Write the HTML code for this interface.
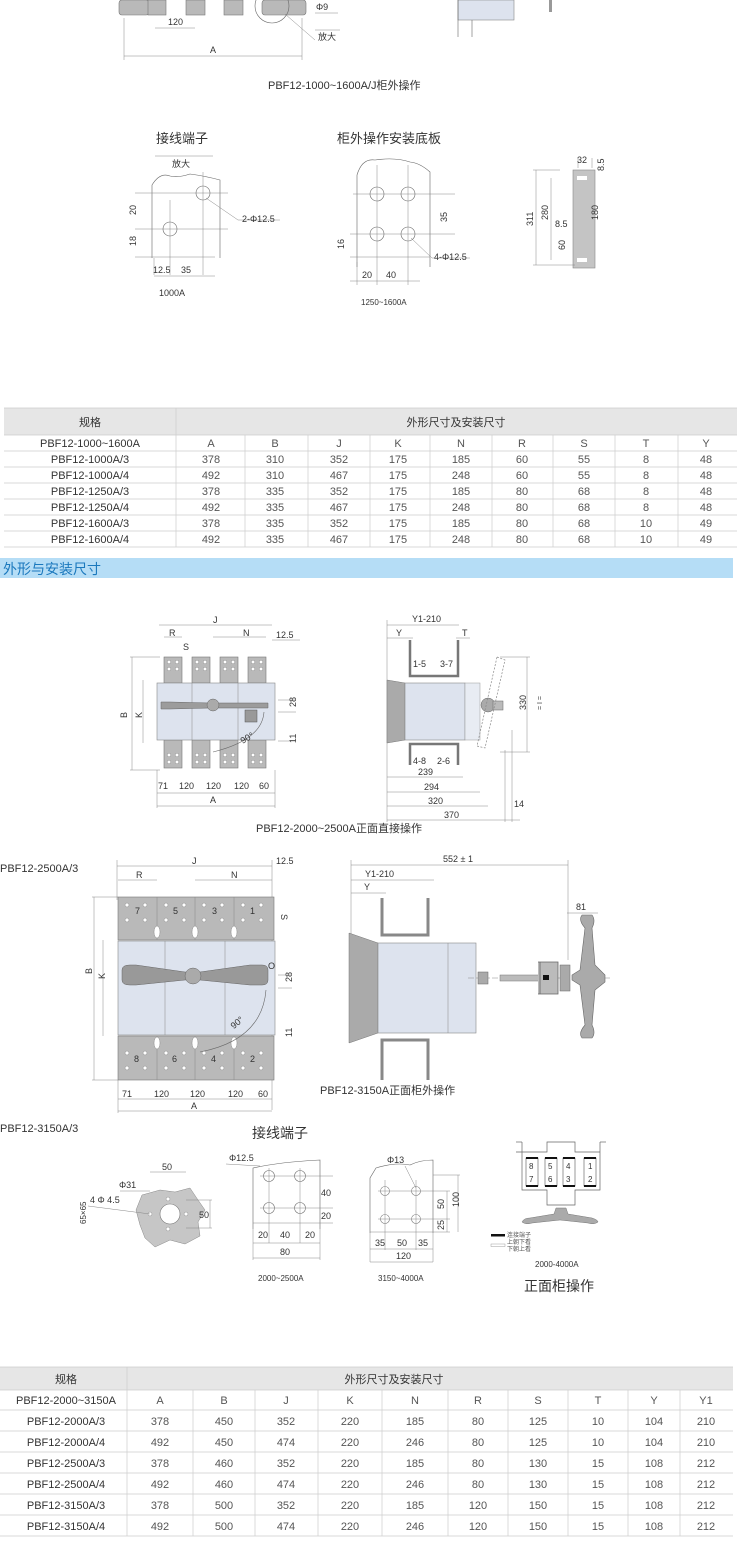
<!DOCTYPE html>
<html><head><meta charset="utf-8"><style>
html,body{margin:0;padding:0;background:#fff;}
svg{display:block;font-family:"Liberation Sans","Noto Sans CJK SC",sans-serif;}
.t{font-size:9px;fill:#333;}
.c{font-size:11px;fill:#333;}
.l{stroke:#666;stroke-width:0.6;fill:none;}
.d{stroke:#888;stroke-width:0.5;fill:none;}
.g{fill:#b9b9b9;stroke:#777;stroke-width:0.6;}
.b{fill:#dde3ee;stroke:#888;stroke-width:0.6;}
.tb{font-size:11px;fill:#555;}
.th{font-size:11px;fill:#333;}
</style></head><body>
<svg width="740" height="1565" viewBox="0 0 740 1565" xmlns="http://www.w3.org/2000/svg">
<!-- top partial drawing -->
<rect x="119" y="0" width="30" height="15" rx="3" class="g" fill="#999"/>
<rect x="148" y="0" width="18" height="15" class="g"/>
<rect x="186" y="0" width="19" height="15" class="g"/>
<rect x="224" y="0" width="19" height="15" class="g"/>
<rect x="262" y="0" width="44" height="15" rx="3" class="g"/>
<circle cx="272" cy="6" r="17" class="l"/>
<line x1="155" y1="28" x2="195" y2="28" class="d"/>
<text x="168" y="25" class="t">120</text>
<line x1="124" y1="18" x2="124" y2="60" class="d"/><line x1="302" y1="18" x2="302" y2="60" class="d"/>
<line x1="124" y1="56" x2="302" y2="56" class="d"/>
<text x="210" y="53" class="t">A</text>
<text x="316" y="10" class="t">Φ9</text><line x1="315" y1="13" x2="338" y2="13" class="d"/>
<line x1="285" y1="14" x2="315" y2="40" class="d"/><line x1="315" y1="30" x2="340" y2="30" class="d"/>
<text x="318" y="40" class="t">放大</text>
<rect x="458" y="0" width="56" height="20" class="b"/>
<line x1="458" y1="0" x2="458" y2="37" class="l"/><line x1="472" y1="20" x2="472" y2="37" class="l"/>
<rect x="549" y="0" width="3" height="12" fill="#999"/>
<text x="268" y="89" class="c">PBF12-1000~1600A/J柜外操作</text>

<!-- terminal 1000A -->
<text x="156" y="143" style="font-size:13px;fill:#333">接线端子</text>
<line x1="155" y1="156" x2="213" y2="156" class="d"/>
<text x="172" y="167" class="t">放大</text>
<path d="M152 258 V185 Q160 172 170 176 Q178 178 190 174 Q205 176 220 180 V258" class="l"/>
<circle cx="203" cy="193" r="7" class="l"/><circle cx="170" cy="229" r="7" class="l"/>
<line x1="135" y1="193" x2="228" y2="193" class="d"/><line x1="135" y1="229" x2="228" y2="229" class="d"/><line x1="135" y1="257" x2="215" y2="257" class="d"/>
<line x1="170" y1="200" x2="170" y2="275" class="d"/><line x1="203" y1="172" x2="203" y2="275" class="d"/><line x1="154" y1="258" x2="154" y2="275" class="d"/>
<line x1="154" y1="276" x2="215" y2="276" class="d"/>
<text x="128" y="215" class="t" transform="rotate(-90 132 211)">20</text>
<text x="128" y="246" class="t" transform="rotate(-90 132 242)">18</text>
<line x1="206" y1="198" x2="238" y2="220" class="d"/><line x1="238" y1="220" x2="280" y2="220" class="d"/>
<text x="242" y="222" class="t">2-Φ12.5</text>
<text x="153" y="273" class="t">12.5</text><text x="181" y="273" class="t">35</text>
<text x="159" y="296" class="t">1000A</text>
<!-- mount plate -->
<text x="337" y="143" style="font-size:13px;fill:#333">柜外操作安装底板</text>
<path d="M357 267 V175 Q362 158 375 160 Q395 157 410 162 Q420 163 430 172 V267" class="l"/>
<circle cx="377" cy="194" r="7" class="l"/><circle cx="408" cy="194" r="7" class="l"/>
<circle cx="377" cy="234" r="7" class="l"/><circle cx="408" cy="234" r="7" class="l"/>
<line x1="353" y1="194" x2="455" y2="194" class="d"/><line x1="350" y1="234" x2="455" y2="234" class="d"/><line x1="350" y1="257" x2="430" y2="257" class="d"/>
<line x1="377" y1="165" x2="377" y2="285" class="d"/><line x1="408" y1="165" x2="408" y2="285" class="d"/><line x1="357" y1="262" x2="357" y2="285" class="d"/>
<line x1="350" y1="281" x2="420" y2="281" class="d"/>
<text x="439" y="222" class="t" transform="rotate(-90 443 218)">35</text>
<text x="336" y="249" class="t" transform="rotate(-90 340 245)">16</text>
<line x1="411" y1="238" x2="432" y2="258" class="d"/><line x1="432" y1="258" x2="470" y2="258" class="d"/>
<text x="434" y="260" class="t">4-Φ12.5</text>
<text x="362" y="278" class="t">20</text><text x="386" y="278" class="t">40</text>
<text x="361" y="305" class="t" style="font-size:8px">1250~1600A</text>
<!-- bracket -->
<rect x="573" y="170" width="22" height="98" fill="#c4c4c4" stroke="#888" stroke-width="0.6"/>
<rect x="577" y="176" width="10" height="4" fill="#fff"/><rect x="577" y="258" width="10" height="4" fill="#fff"/>
<line x1="533" y1="170" x2="560" y2="170" class="d"/><line x1="533" y1="265" x2="575" y2="265" class="d"/>
<line x1="536" y1="170" x2="536" y2="265" class="d"/><line x1="551" y1="178" x2="551" y2="260" class="d"/>
<line x1="578" y1="168" x2="578" y2="158" class="d"/><line x1="592" y1="168" x2="592" y2="158" class="d"/>
<text x="577" y="163" class="t">32</text>
<text x="596" y="171" class="t" transform="rotate(-90 600 167)">8.5</text>
<text x="525" y="226" class="t" transform="rotate(-90 529 222)">311</text>
<text x="540" y="220" class="t" transform="rotate(-90 544 216)">280</text>
<text x="590" y="220" class="t" transform="rotate(-90 594 216)">180</text>
<text x="555" y="227" class="t">8.5</text>
<text x="557" y="250" class="t" transform="rotate(-90 561 246)">60</text>

<!-- table 1 -->
<rect x="4" y="408" width="733" height="27" fill="#e6e6e6"/>
<g stroke="#ccc" stroke-width="0.7">
<line x1="4" y1="408" x2="737" y2="408"/><line x1="4" y1="435" x2="737" y2="435"/>
<line x1="4" y1="451" x2="737" y2="451"/><line x1="4" y1="467" x2="737" y2="467"/><line x1="4" y1="483" x2="737" y2="483"/><line x1="4" y1="499" x2="737" y2="499"/><line x1="4" y1="515" x2="737" y2="515"/><line x1="4" y1="531" x2="737" y2="531"/><line x1="4" y1="547" x2="737" y2="547"/>
<line x1="176" y1="408" x2="176" y2="547"/>
<line x1="245" y1="435" x2="245" y2="547"/><line x1="308" y1="435" x2="308" y2="547"/><line x1="370" y1="435" x2="370" y2="547"/><line x1="430" y1="435" x2="430" y2="547"/><line x1="492" y1="435" x2="492" y2="547"/><line x1="553" y1="435" x2="553" y2="547"/><line x1="615" y1="435" x2="615" y2="547"/><line x1="678" y1="435" x2="678" y2="547"/>
</g>
<g class="th" text-anchor="middle"><text x="90" y="426">规格</text><text x="456" y="426">外形尺寸及安装尺寸</text>
<text x="90" y="447">PBF12-1000~1600A</text><text x="90" y="463">PBF12-1000A/3</text><text x="90" y="479">PBF12-1000A/4</text><text x="90" y="495">PBF12-1250A/3</text><text x="90" y="511">PBF12-1250A/4</text><text x="90" y="527">PBF12-1600A/3</text><text x="90" y="543">PBF12-1600A/4</text></g>
<g class="tb" text-anchor="middle">
<text x="211" y="447">A</text><text x="275" y="447">B</text><text x="339" y="447">J</text><text x="398" y="447">K</text><text x="461" y="447">N</text><text x="522" y="447">R</text><text x="584" y="447">S</text><text x="646" y="447">T</text><text x="706" y="447">Y</text>
<text x="211" y="463">378</text><text x="275" y="463">310</text><text x="339" y="463">352</text><text x="398" y="463">175</text><text x="461" y="463">185</text><text x="522" y="463">60</text><text x="584" y="463">55</text><text x="646" y="463">8</text><text x="706" y="463">48</text>
<text x="211" y="479">492</text><text x="275" y="479">310</text><text x="339" y="479">467</text><text x="398" y="479">175</text><text x="461" y="479">248</text><text x="522" y="479">60</text><text x="584" y="479">55</text><text x="646" y="479">8</text><text x="706" y="479">48</text>
<text x="211" y="495">378</text><text x="275" y="495">335</text><text x="339" y="495">352</text><text x="398" y="495">175</text><text x="461" y="495">185</text><text x="522" y="495">80</text><text x="584" y="495">68</text><text x="646" y="495">8</text><text x="706" y="495">48</text>
<text x="211" y="511">492</text><text x="275" y="511">335</text><text x="339" y="511">467</text><text x="398" y="511">175</text><text x="461" y="511">248</text><text x="522" y="511">80</text><text x="584" y="511">68</text><text x="646" y="511">8</text><text x="706" y="511">48</text>
<text x="211" y="527">378</text><text x="275" y="527">335</text><text x="339" y="527">352</text><text x="398" y="527">175</text><text x="461" y="527">185</text><text x="522" y="527">80</text><text x="584" y="527">68</text><text x="646" y="527">10</text><text x="706" y="527">49</text>
<text x="211" y="543">492</text><text x="275" y="543">335</text><text x="339" y="543">467</text><text x="398" y="543">175</text><text x="461" y="543">248</text><text x="522" y="543">80</text><text x="584" y="543">68</text><text x="646" y="543">10</text><text x="706" y="543">49</text>
</g>

<!-- section bar -->
<rect x="0" y="558" width="733" height="20" fill="#b5ddf6"/>
<text x="3" y="574" style="font-size:14px;fill:#1a78bd">外形与安装尺寸</text>

<!-- drawing 1 front -->
<line x1="159" y1="625" x2="272" y2="625" class="d"/><text x="213" y="623" class="t">J</text>
<line x1="164" y1="637" x2="182" y2="637" class="d"/><text x="169" y="636" class="t">R</text>
<line x1="213" y1="637" x2="266" y2="637" class="d"/><text x="243" y="636" class="t">N</text>
<text x="276" y="638" class="t">12.5</text><line x1="272" y1="640" x2="300" y2="640" class="d"/>
<text x="183" y="650" class="t">S</text>
<line x1="130" y1="657" x2="160" y2="657" class="d"/><line x1="130" y1="770" x2="160" y2="770" class="d"/>
<line x1="132" y1="657" x2="132" y2="770" class="d"/><line x1="143" y1="680" x2="143" y2="743" class="d"/>
<text x="119" y="718" class="t" transform="rotate(-90 123 714)">B</text>
<text x="134" y="718" class="t" transform="rotate(-90 138 714)">K</text>
<g>
<rect x="164" y="657" width="18" height="26" class="g"/><rect x="192" y="657" width="18" height="26" class="g"/><rect x="220" y="657" width="18" height="26" class="g"/><rect x="248" y="657" width="18" height="26" class="g"/>
<rect x="164" y="740" width="18" height="28" class="g"/><rect x="192" y="740" width="18" height="28" class="g"/><rect x="220" y="740" width="18" height="28" class="g"/><rect x="248" y="740" width="18" height="28" class="g"/>
</g>
<g fill="#fff" stroke="#777" stroke-width="0.4">
<circle cx="169" cy="662" r="1.8"/><circle cx="177" cy="662" r="1.8"/><circle cx="169" cy="669" r="1.8"/><circle cx="177" cy="669" r="1.8"/>
<circle cx="197" cy="662" r="1.8"/><circle cx="205" cy="662" r="1.8"/><circle cx="197" cy="669" r="1.8"/><circle cx="205" cy="669" r="1.8"/>
<circle cx="225" cy="662" r="1.8"/><circle cx="233" cy="662" r="1.8"/><circle cx="225" cy="669" r="1.8"/><circle cx="233" cy="669" r="1.8"/>
<circle cx="253" cy="662" r="1.8"/><circle cx="261" cy="662" r="1.8"/><circle cx="253" cy="669" r="1.8"/><circle cx="261" cy="669" r="1.8"/>
<circle cx="169" cy="755" r="1.8"/><circle cx="177" cy="755" r="1.8"/><circle cx="169" cy="762" r="1.8"/><circle cx="177" cy="762" r="1.8"/>
<circle cx="197" cy="755" r="1.8"/><circle cx="205" cy="755" r="1.8"/><circle cx="197" cy="762" r="1.8"/><circle cx="205" cy="762" r="1.8"/>
<circle cx="225" cy="755" r="1.8"/><circle cx="233" cy="755" r="1.8"/><circle cx="225" cy="762" r="1.8"/><circle cx="233" cy="762" r="1.8"/>
<circle cx="253" cy="755" r="1.8"/><circle cx="261" cy="755" r="1.8"/><circle cx="253" cy="762" r="1.8"/><circle cx="261" cy="762" r="1.8"/>
</g>
<rect x="157" y="683" width="118" height="57" class="b"/>
<line x1="192" y1="683" x2="192" y2="740" class="d"/><line x1="238" y1="683" x2="238" y2="740" class="d"/>
<path d="M161 702 H170 L210 703 H268 V708 H210 L170 709 H161 Z" fill="#9c9c9c" stroke="#666" stroke-width="0.5"/>
<circle cx="213" cy="705" r="6" fill="#aaa" stroke="#666" stroke-width="0.5"/>
<rect x="245" y="710" width="12" height="12" fill="#999" stroke="#555" stroke-width="0.5"/>
<path d="M264 712 Q262 740 213 752" class="l"/>
<text x="240" y="742" class="t" transform="rotate(-30 245 738)">90°</text>
<line x1="278" y1="700" x2="296" y2="700" class="d"/><line x1="278" y1="712" x2="296" y2="712" class="d"/>
<text x="288" y="707" class="t" transform="rotate(-90 292 703)">28</text>
<text x="288" y="743" class="t" transform="rotate(-90 292 739)">11</text>
<line x1="278" y1="741" x2="296" y2="741" class="d"/>
<line x1="157" y1="770" x2="157" y2="808" class="d"/><line x1="275" y1="770" x2="275" y2="808" class="d"/>
<line x1="157" y1="793" x2="275" y2="793" class="d"/><line x1="157" y1="806" x2="275" y2="806" class="d"/>
<text x="158" y="789" class="t">71</text><text x="179" y="789" class="t">120</text><text x="206" y="789" class="t">120</text><text x="234" y="789" class="t">120</text><text x="259" y="789" class="t">60</text>
<text x="210" y="803" class="t">A</text>
<!-- side 1 -->
<line x1="387" y1="625" x2="459" y2="625" class="d"/><text x="412" y="622" class="t">Y1-210</text>
<line x1="387" y1="638" x2="413" y2="638" class="d"/><text x="396" y="636" class="t">Y</text>
<line x1="456" y1="638" x2="470" y2="638" class="d"/><text x="462" y="636" class="t">T</text>
<line x1="387" y1="620" x2="387" y2="822" class="d"/>
<path d="M410 640 V676 H458 V640" fill="none" stroke="#777" stroke-width="2.5"/>
<text x="413" y="667" class="t">1-5</text><text x="440" y="667" class="t">3-7</text>
<path d="M387 680 L405 683 V740 L387 743 Z" fill="#aaa" stroke="#777" stroke-width="0.5"/>
<rect x="405" y="683" width="60" height="57" class="b"/><rect x="465" y="683" width="15" height="57" fill="#e8ecf3" stroke="#999" stroke-width="0.5"/>
<path d="M410 765 V744 H458 V765" fill="none" stroke="#777" stroke-width="2.5"/>
<text x="413" y="764" class="t">4-8</text><text x="437" y="764" class="t">2-6</text>
<circle cx="488" cy="705" r="7" fill="#aaa" stroke="#666" stroke-width="0.5"/>
<rect x="493" y="701" width="10" height="9" fill="#bbb" stroke="#666" stroke-width="0.5"/>
<path d="M497 657 L505 660 L485 748 L477 746 Z" fill="none" stroke="#888" stroke-dasharray="2,1.5" stroke-width="0.7"/>
<line x1="500" y1="657" x2="530" y2="657" class="d"/><line x1="500" y1="752" x2="530" y2="752" class="d"/><line x1="527" y1="657" x2="527" y2="752" class="d"/>
<text x="518" y="710" class="t" transform="rotate(-90 522 706)">330</text>
<text x="532" y="712" class="t" transform="rotate(-90 536 706)" style="font-size:7px">= I =</text>
<line x1="387" y1="777" x2="463" y2="777" class="d"/><text x="418" y="775" class="t">239</text>
<line x1="387" y1="792" x2="480" y2="792" class="d"/><text x="424" y="790" class="t">294</text>
<line x1="387" y1="806" x2="488" y2="806" class="d"/><text x="428" y="804" class="t">320</text>
<line x1="387" y1="820" x2="520" y2="820" class="d"/><text x="444" y="818" class="t">370</text>
<line x1="505" y1="750" x2="505" y2="822" class="d"/><line x1="512" y1="730" x2="512" y2="822" class="d"/>
<text x="514" y="807" class="t">14</text>
<text x="256" y="832" class="c">PBF12-2000~2500A正面直接操作</text>

<!-- drawing 2 -->
<text x="0" y="872" class="c">PBF12-2500A/3</text>
<line x1="117" y1="866" x2="272" y2="866" class="d"/><text x="192" y="864" class="t">J</text>
<text x="276" y="864" class="t">12.5</text>
<line x1="118" y1="880" x2="157" y2="880" class="d"/><text x="136" y="878" class="t">R</text>
<line x1="195" y1="880" x2="272" y2="880" class="d"/><text x="231" y="878" class="t">N</text>
<line x1="117" y1="860" x2="117" y2="900" class="d"/><line x1="272" y1="860" x2="272" y2="1110" class="d"/>
<text x="281" y="922" class="t" transform="rotate(90 285 918)">S</text>
<line x1="92" y1="897" x2="118" y2="897" class="d"/><line x1="92" y1="1080" x2="118" y2="1080" class="d"/><line x1="94" y1="897" x2="94" y2="1080" class="d"/><line x1="103" y1="940" x2="103" y2="1036" class="d"/>
<text x="84" y="974" class="t" transform="rotate(-90 88 970)">B</text>
<text x="97" y="979" class="t" transform="rotate(-90 101 975)">K</text>
<rect x="118" y="897" width="156" height="43" class="g"/>
<rect x="118" y="1036" width="156" height="44" class="g"/>
<g class="d"><line x1="157" y1="897" x2="157" y2="940"/><line x1="195" y1="897" x2="195" y2="940"/><line x1="234" y1="897" x2="234" y2="940"/>
<line x1="157" y1="1036" x2="157" y2="1080"/><line x1="195" y1="1036" x2="195" y2="1080"/><line x1="234" y1="1036" x2="234" y2="1080"/></g>
<g fill="#fff" stroke="#777" stroke-width="0.4">
<circle cx="127" cy="905" r="2"/><circle cx="145" cy="905" r="2"/><circle cx="127" cy="920" r="2"/><circle cx="145" cy="920" r="2"/>
<circle cx="166" cy="905" r="2"/><circle cx="184" cy="905" r="2"/><circle cx="166" cy="920" r="2"/><circle cx="184" cy="920" r="2"/>
<circle cx="204" cy="905" r="2"/><circle cx="222" cy="905" r="2"/><circle cx="204" cy="920" r="2"/><circle cx="222" cy="920" r="2"/>
<circle cx="243" cy="905" r="2"/><circle cx="261" cy="905" r="2"/><circle cx="243" cy="920" r="2"/><circle cx="261" cy="920" r="2"/>
<circle cx="127" cy="1053" r="2"/><circle cx="145" cy="1053" r="2"/><circle cx="127" cy="1068" r="2"/><circle cx="145" cy="1068" r="2"/>
<circle cx="166" cy="1053" r="2"/><circle cx="184" cy="1053" r="2"/><circle cx="166" cy="1068" r="2"/><circle cx="184" cy="1068" r="2"/>
<circle cx="204" cy="1053" r="2"/><circle cx="222" cy="1053" r="2"/><circle cx="204" cy="1068" r="2"/><circle cx="222" cy="1068" r="2"/>
<circle cx="243" cy="1053" r="2"/><circle cx="261" cy="1053" r="2"/><circle cx="243" cy="1068" r="2"/><circle cx="261" cy="1068" r="2"/>
<ellipse cx="157" cy="932" rx="3" ry="6"/><ellipse cx="195" cy="932" rx="3" ry="6"/><ellipse cx="234" cy="932" rx="3" ry="6"/>
<ellipse cx="157" cy="1043" rx="3" ry="6"/><ellipse cx="195" cy="1043" rx="3" ry="6"/><ellipse cx="234" cy="1043" rx="3" ry="6"/>
</g>
<g class="t"><text x="135" y="914">7</text><text x="173" y="914">5</text><text x="212" y="914">3</text><text x="250" y="914">1</text>
<text x="134" y="1062">8</text><text x="172" y="1062">6</text><text x="211" y="1062">4</text><text x="250" y="1062">2</text></g>
<rect x="118" y="941" width="157" height="94" class="b"/>
<line x1="165" y1="941" x2="165" y2="1035" class="d"/><line x1="225" y1="941" x2="225" y2="1035" class="d"/>
<path d="M122 970 Q122 965 130 965 L136 965 L185 972 H200 L250 965 H262 Q268 965 268 970 V980 Q268 985 262 985 H250 L200 980 H185 L136 985 H130 Q122 985 122 980 Z" fill="#999" stroke="#666" stroke-width="0.5"/>
<circle cx="193" cy="976" r="8" fill="#aaa" stroke="#666" stroke-width="0.5"/>
<path d="M266 990 Q262 1040 200 1052" class="l"/>
<text x="230" y="1027" class="t" transform="rotate(-40 235 1023)">90°</text>
<text x="268" y="969" class="t">O</text>
<text x="284" y="982" class="t" transform="rotate(-90 288 978)">28</text>
<text x="284" y="1037" class="t" transform="rotate(-90 288 1033)">11</text>
<line x1="278" y1="975" x2="292" y2="975" class="d"/><line x1="278" y1="988" x2="292" y2="988" class="d"/>
<line x1="118" y1="1080" x2="118" y2="1113" class="d"/>
<line x1="118" y1="1099" x2="272" y2="1099" class="d"/><line x1="118" y1="1111" x2="272" y2="1111" class="d"/>
<text x="122" y="1097" class="t">71</text><text x="154" y="1097" class="t">120</text><text x="190" y="1097" class="t">120</text><text x="228" y="1097" class="t">120</text><text x="258" y="1097" class="t">60</text>
<text x="191" y="1109" class="t">A</text>
<!-- side 2 -->
<line x1="351" y1="865" x2="568" y2="865" class="d"/><text x="443" y="862" class="t">552 ± 1</text>
<line x1="351" y1="880" x2="434" y2="880" class="d"/><text x="365" y="877" class="t">Y1-210</text>
<line x1="351" y1="893" x2="386" y2="893" class="d"/><text x="364" y="890" class="t">Y</text>
<line x1="351" y1="860" x2="351" y2="935" class="d"/><line x1="568" y1="860" x2="568" y2="960" class="d"/>
<path d="M382 898 V935 H428 V898" fill="none" stroke="#888" stroke-width="3"/>
<path d="M382 1080 V1040 H428 V1080" fill="none" stroke="#888" stroke-width="3"/>
<path d="M349 933 L378 943 V1033 L349 1043 Z" fill="#aaa" stroke="#777" stroke-width="0.5"/>
<rect x="378" y="943" width="98" height="90" class="b"/>
<line x1="448" y1="943" x2="448" y2="1033" class="d"/>
<line x1="468" y1="978" x2="610" y2="978" class="d" stroke-dasharray="6,2"/>
<rect x="478" y="972" width="10" height="12" fill="#aaa" stroke="#666" stroke-width="0.5"/>
<rect x="500" y="975" width="40" height="6" fill="#bbb" stroke="#777" stroke-width="0.5"/>
<path d="M540 962 V994 M538 962 H558 V994 H538" fill="#bbb" stroke="#666" stroke-width="0.8"/>
<rect x="543" y="975" width="6" height="5" fill="#111"/>
<rect x="560" y="965" width="10" height="26" fill="#aaa" stroke="#666" stroke-width="0.5"/>
<path d="M585 928 Q578 920 582 915 L592 915 Q596 920 592 928 L595 965 L605 975 V982 L595 990 L592 1025 Q596 1033 592 1038 L582 1038 Q578 1033 585 1025 L580 985 L572 980 V975 L580 970 Z" fill="#aaa" stroke="#666" stroke-width="0.6"/>
<line x1="567" y1="913" x2="598" y2="913" class="d"/><text x="576" y="910" class="t">81</text>
<text x="320" y="1094" class="c">PBF12-3150A正面柜外操作</text>

<!-- bottom detail -->
<text x="0" y="1132" class="c">PBF12-3150A/3</text>
<text x="252" y="1138" style="font-size:14px;fill:#333">接线端子</text>
<path d="M142 1195 L160 1190 L175 1192 L190 1188 L198 1200 L205 1210 L198 1222 L200 1236 L185 1244 L170 1240 L155 1247 L145 1238 L140 1225 L136 1210 Z" fill="#c6c6c6" stroke="#888" stroke-width="0.5"/>
<circle cx="170" cy="1214" r="10" fill="#fff" stroke="#777" stroke-width="0.6"/>
<g fill="#fff" stroke="#777" stroke-width="0.4"><circle cx="150" cy="1214" r="2"/><circle cx="186" cy="1214" r="2"/><circle cx="168" cy="1199" r="2"/><circle cx="168" cy="1229" r="2"/></g>
<line x1="150" y1="1172" x2="186" y2="1172" class="d"/><text x="162" y="1170" class="t">50</text>
<line x1="120" y1="1191" x2="150" y2="1191" class="d"/><text x="119" y="1188" class="t">Φ31</text>
<text x="90" y="1203" class="t">4 Φ 4.5</text><line x1="88" y1="1206" x2="150" y2="1214" class="d"/>
<line x1="186" y1="1200" x2="212" y2="1200" class="d"/><line x1="186" y1="1228" x2="212" y2="1228" class="d"/><line x1="210" y1="1200" x2="210" y2="1228" class="d"/>
<text x="199" y="1218" class="t">50</text>
<text x="70" y="1216" class="t" transform="rotate(-90 82 1212)" style="font-size:8px">65×65</text>
<!-- 2000-2500 plate -->
<path d="M253 1229 V1168 Q280 1162 320 1160 V1229" class="l"/>
<g fill="none" stroke="#777" stroke-width="0.6"><circle cx="269" cy="1176" r="5.5"/><circle cx="300" cy="1176" r="5.5"/><circle cx="269" cy="1208" r="5.5"/><circle cx="300" cy="1208" r="5.5"/></g>
<line x1="260" y1="1176" x2="333" y2="1176" class="d"/><line x1="260" y1="1208" x2="333" y2="1208" class="d"/><line x1="253" y1="1223" x2="333" y2="1223" class="d"/>
<line x1="269" y1="1168" x2="269" y2="1243" class="d"/><line x1="300" y1="1168" x2="300" y2="1243" class="d"/><line x1="253" y1="1229" x2="253" y2="1260" class="d"/><line x1="320" y1="1229" x2="320" y2="1260" class="d"/>
<line x1="253" y1="1243" x2="320" y2="1243" class="d"/><line x1="253" y1="1258" x2="320" y2="1258" class="d"/>
<text x="229" y="1161" class="t">Φ12.5</text><line x1="226" y1="1164" x2="260" y2="1166" class="d"/>
<text x="321" y="1196" class="t">40</text><text x="321" y="1219" class="t">20</text>
<text x="258" y="1238" class="t">20</text><text x="280" y="1238" class="t">40</text><text x="305" y="1238" class="t">20</text>
<text x="280" y="1255" class="t">80</text>
<text x="258" y="1281" class="t" style="font-size:8px">2000~2500A</text>
<!-- 3150-4000 plate -->
<path d="M370 1233 V1178 L376 1168 Q395 1162 410 1165 Q420 1160 433 1160 V1233" class="l"/>
<g fill="none" stroke="#777" stroke-width="0.6"><circle cx="385" cy="1191" r="4.5"/><circle cx="416" cy="1191" r="4.5"/><circle cx="385" cy="1219" r="4.5"/><circle cx="416" cy="1219" r="4.5"/></g>
<line x1="378" y1="1191" x2="450" y2="1191" class="d"/><line x1="378" y1="1219" x2="450" y2="1219" class="d"/><line x1="370" y1="1232" x2="450" y2="1232" class="d"/>
<line x1="433" y1="1175" x2="460" y2="1175" class="d"/><line x1="447" y1="1191" x2="447" y2="1232" class="d"/><line x1="458" y1="1175" x2="458" y2="1232" class="d"/>
<line x1="385" y1="1180" x2="385" y2="1250" class="d"/><line x1="416" y1="1180" x2="416" y2="1250" class="d"/><line x1="370" y1="1233" x2="370" y2="1262" class="d"/><line x1="433" y1="1233" x2="433" y2="1262" class="d"/>
<line x1="370" y1="1249" x2="433" y2="1249" class="d"/><line x1="370" y1="1262" x2="433" y2="1262" class="d"/>
<text x="387" y="1163" class="t">Φ13</text><line x1="405" y1="1166" x2="416" y2="1188" class="d"/>
<text x="436" y="1209" class="t" transform="rotate(-90 440 1205)">50</text>
<text x="448" y="1204" class="t" transform="rotate(-90 455 1200)">100</text>
<text x="436" y="1230" class="t" transform="rotate(-90 440 1226)">25</text>
<text x="375" y="1246" class="t">35</text><text x="397" y="1246" class="t">50</text><text x="418" y="1246" class="t">35</text>
<text x="396" y="1259" class="t">120</text>
<text x="378" y="1281" class="t" style="font-size:8px">3150~4000A</text>
<!-- right switch view -->
<path d="M522 1142 V1152 H516 V1152 M522 1152 H547 V1142 H575 V1152 H600 V1142 M522 1152 V1190 H547 V1205 H575 V1190 H600 V1152" fill="none" stroke="#666" stroke-width="0.7"/>
<line x1="516" y1="1142" x2="522" y2="1142" stroke="#666" stroke-width="0.7"/><line x1="600" y1="1142" x2="606" y2="1142" stroke="#666" stroke-width="0.7"/>
<g fill="#fff" stroke="#555" stroke-width="0.6">
<rect x="526" y="1158" width="12" height="28"/><rect x="545" y="1158" width="12" height="28"/><rect x="563" y="1158" width="12" height="28"/><rect x="584" y="1158" width="12" height="28"/></g>
<g fill="#111"><rect x="526" y="1157" width="12" height="2"/><rect x="545" y="1157" width="12" height="2"/><rect x="563" y="1157" width="12" height="2"/><rect x="584" y="1157" width="12" height="2"/>
<rect x="526" y="1185" width="12" height="2"/><rect x="545" y="1185" width="12" height="2"/><rect x="563" y="1185" width="12" height="2"/><rect x="584" y="1185" width="12" height="2"/></g>
<g class="t" style="font-size:8px"><text x="529" y="1169">8</text><text x="529" y="1182">7</text><text x="548" y="1169">5</text><text x="548" y="1182">6</text><text x="566" y="1169">4</text><text x="566" y="1182">3</text><text x="588" y="1169">1</text><text x="588" y="1182">2</text></g>
<path d="M556 1208 H566 L568 1214 L592 1218 Q598 1220 598 1222 Q594 1225 588 1223 L560 1220 L532 1223 Q526 1225 522 1222 Q524 1218 530 1218 L554 1214 Z" fill="#aaa" stroke="#777" stroke-width="0.5"/>
<rect x="491" y="1234" width="14" height="2.5" fill="#111"/><rect x="491" y="1244" width="14" height="2.5" fill="#fff" stroke="#888" stroke-width="0.4"/>
<g style="font-size:6px;fill:#555"><text x="507" y="1237">连接端子</text><text x="507" y="1244">上朝下看</text><text x="507" y="1251">下朝上看</text></g>
<text x="535" y="1267" class="t" style="font-size:8px">2000-4000A</text>
<text x="524" y="1291" style="font-size:14px;fill:#333">正面柜操作</text>

<!-- table 2 -->
<rect x="0" y="1367" width="733" height="23" fill="#e6e6e6"/>
<g stroke="#ccc" stroke-width="0.7">
<line x1="0" y1="1367" x2="733" y2="1367"/><line x1="0" y1="1390" x2="733" y2="1390"/><line x1="0" y1="1410" x2="733" y2="1410"/><line x1="0" y1="1431" x2="733" y2="1431"/><line x1="0" y1="1452" x2="733" y2="1452"/><line x1="0" y1="1473" x2="733" y2="1473"/><line x1="0" y1="1494" x2="733" y2="1494"/><line x1="0" y1="1515" x2="733" y2="1515"/><line x1="0" y1="1536" x2="733" y2="1536"/>
<line x1="127" y1="1367" x2="127" y2="1536"/>
<line x1="193" y1="1390" x2="193" y2="1536"/><line x1="255" y1="1390" x2="255" y2="1536"/><line x1="318" y1="1390" x2="318" y2="1536"/><line x1="382" y1="1390" x2="382" y2="1536"/><line x1="448" y1="1390" x2="448" y2="1536"/><line x1="508" y1="1390" x2="508" y2="1536"/><line x1="568" y1="1390" x2="568" y2="1536"/><line x1="628" y1="1390" x2="628" y2="1536"/><line x1="680" y1="1390" x2="680" y2="1536"/>
</g>
<g class="th" text-anchor="middle"><text x="66" y="1383">规格</text><text x="394" y="1383">外形尺寸及安装尺寸</text>
<text x="66" y="1404">PBF12-2000~3150A</text><text x="66" y="1425">PBF12-2000A/3</text><text x="66" y="1446">PBF12-2000A/4</text><text x="66" y="1467">PBF12-2500A/3</text><text x="66" y="1488">PBF12-2500A/4</text><text x="66" y="1509">PBF12-3150A/3</text><text x="66" y="1530">PBF12-3150A/4</text></g>
<g class="tb" text-anchor="middle">
<text x="160" y="1404">A</text><text x="224" y="1404">B</text><text x="286" y="1404">J</text><text x="350" y="1404">K</text><text x="415" y="1404">N</text><text x="478" y="1404">R</text><text x="538" y="1404">S</text><text x="598" y="1404">T</text><text x="654" y="1404">Y</text><text x="706" y="1404">Y1</text>
<text x="160" y="1425">378</text><text x="224" y="1425">450</text><text x="286" y="1425">352</text><text x="350" y="1425">220</text><text x="415" y="1425">185</text><text x="478" y="1425">80</text><text x="538" y="1425">125</text><text x="598" y="1425">10</text><text x="654" y="1425">104</text><text x="706" y="1425">210</text>
<text x="160" y="1446">492</text><text x="224" y="1446">450</text><text x="286" y="1446">474</text><text x="350" y="1446">220</text><text x="415" y="1446">246</text><text x="478" y="1446">80</text><text x="538" y="1446">125</text><text x="598" y="1446">10</text><text x="654" y="1446">104</text><text x="706" y="1446">210</text>
<text x="160" y="1467">378</text><text x="224" y="1467">460</text><text x="286" y="1467">352</text><text x="350" y="1467">220</text><text x="415" y="1467">185</text><text x="478" y="1467">80</text><text x="538" y="1467">130</text><text x="598" y="1467">15</text><text x="654" y="1467">108</text><text x="706" y="1467">212</text>
<text x="160" y="1488">492</text><text x="224" y="1488">460</text><text x="286" y="1488">474</text><text x="350" y="1488">220</text><text x="415" y="1488">246</text><text x="478" y="1488">80</text><text x="538" y="1488">130</text><text x="598" y="1488">15</text><text x="654" y="1488">108</text><text x="706" y="1488">212</text>
<text x="160" y="1509">378</text><text x="224" y="1509">500</text><text x="286" y="1509">352</text><text x="350" y="1509">220</text><text x="415" y="1509">185</text><text x="478" y="1509">120</text><text x="538" y="1509">150</text><text x="598" y="1509">15</text><text x="654" y="1509">108</text><text x="706" y="1509">212</text>
<text x="160" y="1530">492</text><text x="224" y="1530">500</text><text x="286" y="1530">474</text><text x="350" y="1530">220</text><text x="415" y="1530">246</text><text x="478" y="1530">120</text><text x="538" y="1530">150</text><text x="598" y="1530">15</text><text x="654" y="1530">108</text><text x="706" y="1530">212</text>
</g>
</svg>
</body></html>
